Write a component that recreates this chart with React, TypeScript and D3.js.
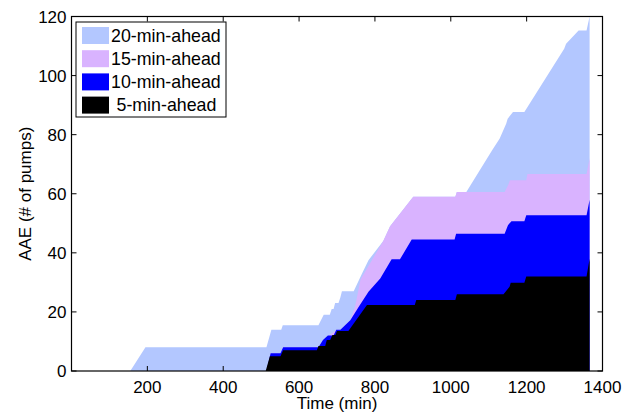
import React, { useEffect, useRef } from 'react';
import * as d3 from 'd3';

type Pt = [number, number];

// [time (min), AAE] breakpoints
const ahead20: Pt[] = [
  [0, 0], [155, 0], [195, 8], [514, 8], [527, 14], [553, 14], [557, 15.5], [651, 15.5],
  [665, 19], [681, 19], [686, 21], [691, 21], [695, 23], [704, 23], [709, 25], [713, 27],
  [744, 27], [766, 33], [783, 37.5], [822, 44], [840, 49], [901, 59], [1012, 59],
  [1016, 60.6], [1041, 60.6], [1109, 74.7], [1129, 78.7], [1146, 83.7], [1150, 85.4],
  [1164, 87.7], [1194, 87.7], [1299, 109.1], [1304, 110.8], [1337, 115.3], [1358, 115.3],
  [1366, 120],
];

const ahead15: Pt[] = [
  [0, 0], [514, 0], [525, 6], [551, 6], [558, 8], [651, 8], [663, 10.5], [678, 12],
  [700, 14], [709, 14], [735, 17.2], [748, 22], [762, 31], [822, 44], [840, 49], [901, 59],
  [1012, 59], [1016, 60.6], [1142, 60.6], [1151, 62.9], [1156, 64.6], [1199, 64.6],
  [1202, 66.7], [1358, 66.7], [1366, 72],
];

const ahead10: Pt[] = [
  [0, 0], [514, 0], [525, 6], [551, 6], [558, 8], [651, 8], [663, 10.5], [676, 12],
  [691, 12], [698, 14], [709, 14], [735, 17.2], [757, 21.7], [783, 26.8], [814, 31.3],
  [844, 37.8], [866, 37.8], [897, 44.5], [1010, 44.5], [1014, 46.5], [1142, 46.5],
  [1151, 49.4], [1160, 50.7], [1194, 50.7], [1199, 52.7], [1358, 52.7], [1366, 58],
];

const ahead5: Pt[] = [
  [0, 0], [512, 0], [523, 5], [551, 5], [558, 7], [647, 7], [651, 8.5], [669, 8.5],
  [673, 10.5], [682, 10.5], [688, 12.2], [696, 12.2], [700, 13.5], [730, 13.5],
  [779, 22.3], [905, 22.3], [909, 24], [1012, 24], [1016, 26], [1139, 26], [1155, 28.5],
  [1158, 29.9], [1194, 29.9], [1199, 32], [1358, 32], [1366, 38],
];

const seriesNames = ['20-min-ahead', '15-min-ahead', '10-min-ahead', '5-min-ahead'];
const seriesColors = ['#b3c7ff', '#d9b3ff', '#0000ff', '#000000'];
const xTicks = [200, 400, 600, 800, 1000, 1200, 1400];
const yTicks = [0, 20, 40, 60, 80, 100, 120];

const W = 633;
const H = 414;
const FONT = 'Liberation Sans, Arial, Helvetica, sans-serif';

const App = () => {
  const svgRef = useRef<SVGSVGElement>(null);

  useEffect(() => {
    const svg = d3.select(svgRef.current);
    svg.selectAll('*').remove();

    const x = d3.scaleLinear().domain([0, 1400]).range([71.5, 602.5]);
    const y = d3.scaleLinear().domain([0, 120]).range([371, 16.5]);

    const area = d3
      .area<Pt>()
      .x((d) => x(d[0]))
      .y0(y(0))
      .y1((d) => y(d[1]));

    // largest first so smaller horizons sit on top
    const series = [ahead20, ahead15, ahead10, ahead5];
    series.forEach((s, i) => {
      svg.append('path').attr('d', area(s)).attr('fill', seriesColors[i]);
    });

    // axes box
    const [x0, x1] = x.range();
    const [y0, y1] = y.range();
    svg
      .append('rect')
      .attr('x', x0)
      .attr('y', y1)
      .attr('width', x1 - x0)
      .attr('height', y0 - y1)
      .attr('fill', 'none')
      .attr('stroke', '#000')
      .attr('stroke-width', 1.2);

    const tl = 5;
    xTicks.forEach((t) => {
      svg.append('line').attr('x1', x(t)).attr('x2', x(t)).attr('y1', y0).attr('y2', y0 - tl).attr('stroke', '#000');
      svg.append('line').attr('x1', x(t)).attr('x2', x(t)).attr('y1', y1).attr('y2', y1 + tl).attr('stroke', '#000');
      svg
        .append('text')
        .attr('x', x(t))
        .attr('y', 393)
        .attr('text-anchor', 'middle')
        .style('font-family', FONT)
        .style('font-size', '17px')
        .text(t);
    });

    yTicks.forEach((v) => {
      svg.append('line').attr('x1', x0).attr('x2', x0 + tl).attr('y1', y(v)).attr('y2', y(v)).attr('stroke', '#000');
      svg.append('line').attr('x1', x1).attr('x2', x1 - tl).attr('y1', y(v)).attr('y2', y(v)).attr('stroke', '#000');
      svg
        .append('text')
        .attr('x', 66.5)
        .attr('y', y(v) + 6)
        .attr('text-anchor', 'end')
        .style('font-family', FONT)
        .style('font-size', '17px')
        .text(v);
    });

    // axis titles
    svg
      .append('text')
      .attr('x', (x0 + x1) / 2)
      .attr('y', 409)
      .attr('text-anchor', 'middle')
      .style('font-family', FONT)
      .style('font-size', '17px')
      .text('Time (min)');

    svg
      .append('text')
      .attr('transform', `translate(31, ${(y0 + y1) / 2}) rotate(-90)`)
      .attr('text-anchor', 'middle')
      .style('font-family', FONT)
      .style('font-size', '17px')
      .text('AAE (# of pumps)');

    // legend
    const lg = svg.append('g');
    lg.append('rect')
      .attr('x', 76)
      .attr('y', 22)
      .attr('width', 150)
      .attr('height', 95)
      .attr('fill', '#fff')
      .attr('stroke', '#000')
      .attr('stroke-width', 1);

    seriesNames.forEach((name, i) => {
      const ry = 27 + i * 23.2;
      lg.append('rect')
        .attr('x', 82)
        .attr('y', ry)
        .attr('width', 27)
        .attr('height', 17)
        .attr('fill', seriesColors[i]);
      lg.append('text')
        .attr('x', i === 3 ? 116.5 : 111)
        .attr('y', ry + 14.5)
        .style('font-family', FONT)
        .style('font-size', '17.8px')
        .text(name);
    });
  }, []);

  return (
    <svg
      ref={svgRef}
      width={W}
      height={H}
      style={{ position: 'absolute', left: 0, top: 0, background: '#fff' }}
    />
  );
};

export default App;
